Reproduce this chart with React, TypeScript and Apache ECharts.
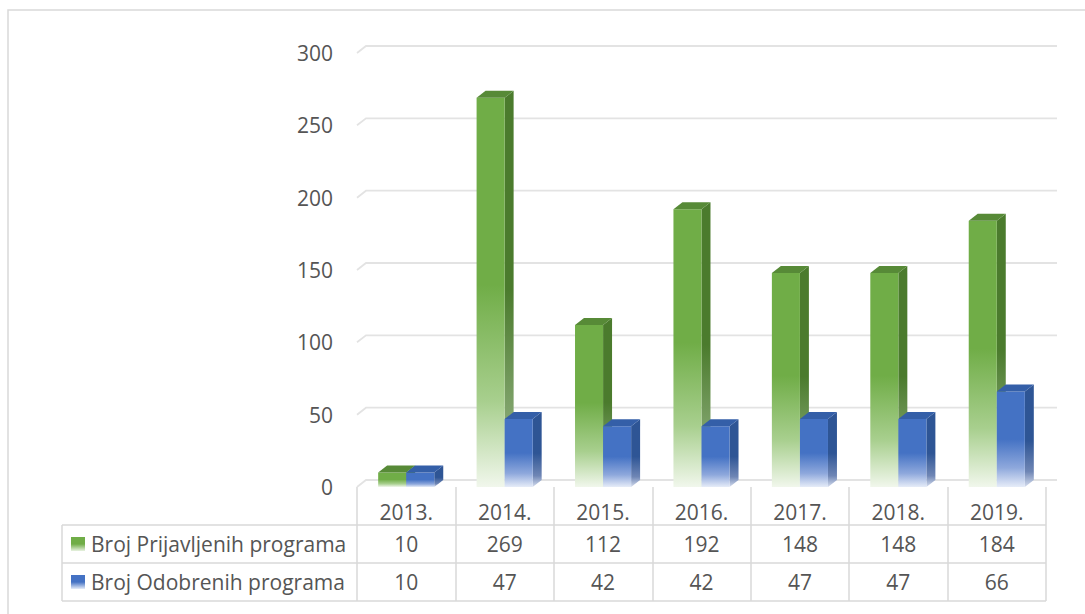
import React, { useEffect, useRef } from "react";
import * as echarts from "echarts";

const categories = ["2013.", "2014.", "2015.", "2016.", "2017.", "2018.", "2019."];
const prijavljeni = [10, 269, 112, 192, 148, 148, 184];
const odobreni = [10, 47, 42, 42, 47, 47, 66];
const seriesNames = ["Broj Prijavljenih programa", "Broj Odobrenih programa"];
const yTicks = [0, 50, 100, 150, 200, 250, 300];

const FONT = '"Open Sans", "Noto Sans", sans-serif';
const FS = 21;
const TXT = "#555555";
const LINE = "#D9D9D9";

const GRID_LEFT = 357;
const GRID_RIGHT_EDGE = 1046;
const GRID_TOP = 53;
const GRID_BOTTOM_Y = 487;
const W = 1085;
const H = 614;
const TABLE_LEFT = 62;
const ROW1 = 525;
const ROW2 = 563;
const ROW3 = 601;

const grad = (stops: [number, string][]) => ({
  type: "linear",
  x: 0,
  y: 0,
  x2: 0,
  y2: 1,
  colorStops: stops.map(([offset, color]) => ({ offset, color })),
});

const palettes = [
  {
    front: grad([[0, "#70AD47"], [0.48, "#70AD47"], [0.78, "#A8CF8E"], [1, "#F1F7EC"]]),
    side: grad([[0, "#4B7B2D"], [0.5, "#4B7B2D"], [0.85, "#86A873"], [1, "#DDE8D5"]]),
    top: "#578A37",
    key: grad([[0, "#70AD47"], [0.5, "#70AD47"], [1, "#E8F2E1"]]),
  },
  {
    front: grad([[0, "#4472C4"], [0.5, "#4472C4"], [0.8, "#8EA8DC"], [1, "#E6ECF8"]]),
    side: grad([[0, "#2E5595"], [0.55, "#2E5595"], [0.85, "#6F86B5"], [1, "#D5DDEE"]]),
    top: "#345FA8",
    key: grad([[0, "#4472C4"], [0.5, "#4472C4"], [1, "#E6ECF8"]]),
  },
];

function makeBarRender(si: number) {
  return (params: any, api: any) => {
    const idx = api.value(0);
    const v = api.value(1);
    const [cx, yTop] = api.coord([idx, v]);
    const yBase = api.coord([idx, 0])[1];
    const band = api.size([1, 0])[0];
    const w = band * 0.285;
    const dx = w * 0.32;
    const dy = -w * 0.25;
    const x0 = si === 0 ? cx - w : cx;
    const p = palettes[si];
    return {
      type: "group",
      children: [
        {
          type: "polygon",
          shape: {
            points: [
              [x0 + w, yTop],
              [x0 + w + dx, yTop + dy],
              [x0 + w + dx, yBase + dy],
              [x0 + w, yBase],
            ],
          },
          style: { fill: p.side },
        },
        {
          type: "rect",
          shape: { x: x0, y: yTop, width: w, height: yBase - yTop },
          style: { fill: p.front },
        },
        {
          type: "polygon",
          shape: {
            points: [
              [x0, yTop],
              [x0 + dx, yTop + dy],
              [x0 + w + dx, yTop + dy],
              [x0 + w, yTop],
            ],
          },
          style: { fill: p.top },
        },
      ],
    };
  };
}

export default function App() {
  const ref = useRef<HTMLDivElement>(null);

  useEffect(() => {
    document.body.style.margin = "0";
    if (!ref.current) return;
    const chart = echarts.init(ref.current, null, { renderer: "svg" });

    const graphic: any[] = [
      {
        type: "rect",
        shape: { x: 8, y: 10, width: W + 20, height: H + 20 },
        style: { fill: "none", stroke: LINE, lineWidth: 1.5 },
        silent: true,
        z: -10,
      },
    ];
    [ROW1, ROW2, ROW3].forEach((y) => {
      graphic.push({
        type: "line",
        shape: { x1: TABLE_LEFT, y1: y, x2: GRID_RIGHT_EDGE, y2: y },
        style: { stroke: LINE, lineWidth: 1.5 },
        silent: true,
      });
    });
    graphic.push({
      type: "line",
      shape: { x1: TABLE_LEFT, y1: ROW1, x2: TABLE_LEFT, y2: ROW3 },
      style: { stroke: LINE, lineWidth: 1.5 },
      silent: true,
    });
    seriesNames.forEach((name, i) => {
      const cy = i === 0 ? (ROW1 + ROW2) / 2 : (ROW2 + ROW3) / 2;
      graphic.push({
        type: "rect",
        shape: { x: 71, y: cy - 7, width: 14, height: 14 },
        style: { fill: palettes[i].key },
        silent: true,
      });
      graphic.push({
        type: "text",
        x: 91,
        y: cy,
        style: {
          text: name,
          fill: TXT,
          fontSize: FS,
          fontFamily: FONT,
          verticalAlign: "middle",
          align: "left",
        },
        silent: true,
      });
    });

    const option: any = {
      animation: false,
      backgroundColor: "#FFFFFF",
      grid: {
        left: GRID_LEFT,
        right: W - GRID_RIGHT_EDGE,
        top: GRID_TOP,
        bottom: H - GRID_BOTTOM_Y,
        containLabel: false,
      },
      xAxis: {
        type: "category",
        data: categories,
        boundaryGap: true,
        axisLine: { show: false },
        axisTick: {
          show: true,
          length: ROW3 - GRID_BOTTOM_Y,
          lineStyle: { color: LINE, width: 1.5 },
        },
        axisLabel: {
          color: TXT,
          fontSize: FS,
          fontFamily: FONT,
          margin: 14,
        },
        splitLine: { show: false },
      },
      yAxis: {
        type: "value",
        min: 0,
        max: 300,
        interval: 50,
        axisLine: { show: false },
        axisTick: { show: false },
        splitLine: { show: false },
        axisLabel: {
          color: TXT,
          fontSize: FS,
          fontFamily: FONT,
          margin: 24,
          padding: [4, 0, 0, 0],
        },
      },
      graphic,
      series: [
        {
          type: "custom",
          name: "grid",
          silent: true,
          clip: false,
          z: 1,
          data: yTicks.map((v) => [0, v]),
          encode: { x: 0, y: 1 },
          renderItem: (params: any, api: any) => {
            const y = api.coord([0, api.value(1)])[1];
            const cs = params.coordSys;
            return {
              type: "polyline",
              shape: {
                points: [
                  [cs.x, y],
                  [cs.x + 9, y - 7],
                  [cs.x + cs.width + 11, y - 7],
                ],
              },
              style: { stroke: "#E3E3E3", lineWidth: 1.8, fill: null },
            };
          },
        },
        {
          type: "custom",
          name: seriesNames[0],
          clip: false,
          z: 3,
          data: prijavljeni.map((v, i) => [i, v]),
          encode: { x: 0, y: 1 },
          renderItem: makeBarRender(0),
        },
        {
          type: "custom",
          name: seriesNames[1],
          clip: false,
          z: 4,
          data: odobreni.map((v, i) => [i, v]),
          encode: { x: 0, y: 1 },
          renderItem: makeBarRender(1),
        },
        {
          type: "custom",
          name: "table",
          silent: true,
          clip: false,
          z: 5,
          data: categories.map((_, i) => [i, 0, prijavljeni[i], odobreni[i]]),
          encode: { x: 0, y: 1 },
          renderItem: (params: any, api: any) => {
            const i = api.value(0);
            const cx = api.coord([i, 0])[0];
            const mk = (t: number, y: number) => ({
              type: "text",
              x: cx,
              y,
              style: {
                text: String(t),
                fill: TXT,
                fontSize: FS,
                fontFamily: FONT,
                align: "center",
                verticalAlign: "middle",
              },
            });
            return {
              type: "group",
              children: [
                mk(api.value(2), (ROW1 + ROW2) / 2),
                mk(api.value(3), (ROW2 + ROW3) / 2),
              ],
            };
          },
        },
      ],
    };
    chart.setOption(option);
    return () => chart.dispose();
  }, []);

  return <div ref={ref} style={{ width: W, height: H }} />;
}
